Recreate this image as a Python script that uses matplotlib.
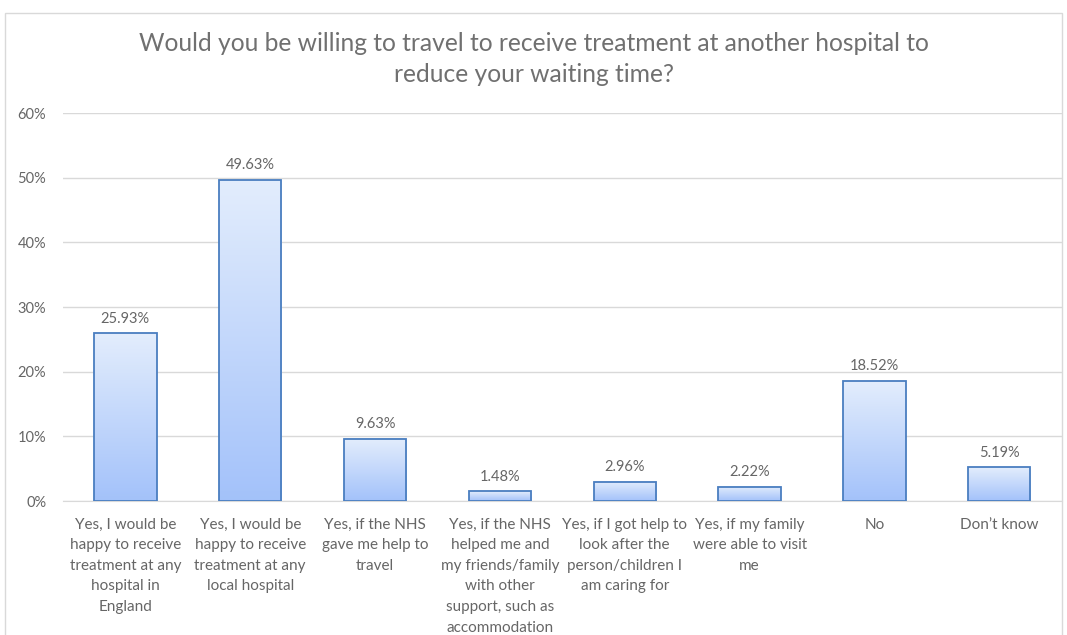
import numpy as np
import matplotlib.pyplot as plt
from matplotlib.patches import Rectangle

categories = [
    "Yes, I would be\nhappy to receive\ntreatment at any\nhospital in\nEngland",
    "Yes, I would be\nhappy to receive\ntreatment at any\nlocal hospital",
    "Yes, if the NHS\ngave me help to\ntravel",
    "Yes, if the NHS\nhelped me and\nmy friends/family\nwith other\nsupport, such as\naccommodation",
    "Yes, if I got help to\nlook after the\nperson/children I\nam caring for",
    "Yes, if my family\nwere able to visit\nme",
    "No",
    "Don\u2019t know",
]
values = [25.93, 49.63, 9.63, 1.48, 2.96, 2.22, 18.52, 5.19]
yticks = [0, 10, 20, 30, 40, 50, 60]

TEXT = "#666666"
EDGE = "#4A7EC0"
plt.rcParams['font.family'] = ['Lato', 'DejaVu Sans']

fig = plt.figure(figsize=(10.67, 6.35), dpi=100)
ax = fig.add_axes([0.059, 0.211, 0.936, 0.611])

x = np.arange(len(values))
bars = ax.bar(x, values, width=0.5, facecolor='none', edgecolor=EDGE, linewidth=1.3, zorder=3)

# vertical gradient inside each bar
grad = np.linspace(0, 1, 256).reshape(-1, 1)
top = np.array([0.89, 0.93, 0.99])
bot = np.array([0.64, 0.76, 0.98])
img = top + (bot - top) * grad[..., None]
for b in bars:
    x0, w, h = b.get_x(), b.get_width(), b.get_height()
    ax.imshow(img, extent=(x0, x0 + w, 0, h), aspect='auto', origin='upper', zorder=2)

for xi, v in zip(x, values):
    ax.text(xi, v + 1.2, f"{v:.2f}%", ha='center', va='bottom', color=TEXT, fontsize=10.5)

ax.set_xlim(-0.5, len(values) - 0.5)
ax.set_ylim(0, 60)
ax.set_yticks(yticks)
ax.set_yticklabels([f"{t}%" for t in yticks])
ax.set_xticks(x)
ax.set_xticklabels(categories, fontsize=11, color=TEXT, linespacing=1.6)
ax.tick_params(axis='y', labelsize=10.5, labelcolor=TEXT, length=0, pad=12)
ax.tick_params(axis='x', length=0, pad=12)
ax.grid(axis='y', color='#D9D9D9', linewidth=1, zorder=0)
for s in ['top', 'right', 'left']:
    ax.spines[s].set_visible(False)
ax.spines['bottom'].set_color('#D9D9D9')

fig.text(0.5, 0.907, "Would you be willing to travel to receive treatment at another hospital to\nreduce your waiting time?",
         ha='center', va='center', fontsize=17.7, color='#707070', linespacing=1.4)

fig.patches.append(Rectangle((0.005, -0.01), 0.99, 0.99, transform=fig.transFigure,
                             fill=False, edgecolor='#D9D9D9', linewidth=1))

fig.savefig("out.png", dpi=100)
